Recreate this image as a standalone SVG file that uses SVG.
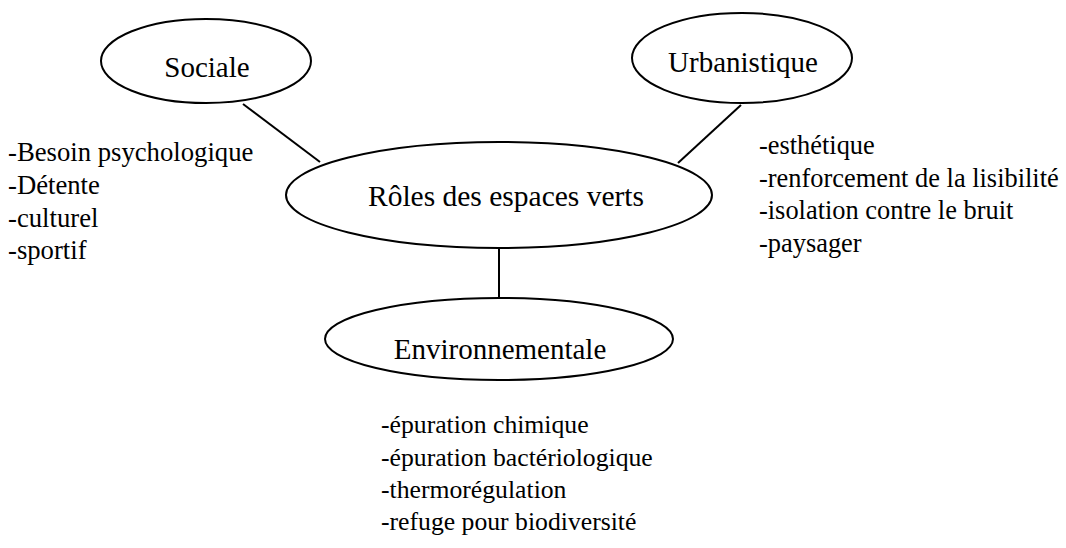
<svg xmlns="http://www.w3.org/2000/svg" width="1066" height="548" viewBox="0 0 1066 548">
<style>
.node{fill:#fff;stroke:#000;stroke-width:2}
.lbl{font-family:'Liberation Serif','Times New Roman',serif;font-size:29px;fill:#000;text-anchor:middle}
.lst{font-family:'Liberation Serif','Times New Roman',serif;font-size:26px;fill:#000}
.edge{stroke:#000;stroke-width:2;fill:none}
</style>
<rect width="1066" height="548" fill="#fff"/>
<g id="connectors">
<line class="edge" x1="243" y1="104" x2="320" y2="162"/>
<line class="edge" x1="741" y1="105" x2="678" y2="163"/>
<line class="edge" x1="499" y1="248" x2="499" y2="298"/>
</g>
<g id="sociale">
<ellipse class="node" cx="206" cy="61" rx="105" ry="42"/>
<text class="lbl" x="207" y="77">Sociale</text>
<g class="lst" style="font-size:26.7px">
<text x="8" y="161">-Besoin psychologique</text>
<text x="8" y="194">-Détente</text>
<text x="8" y="227">-culturel</text>
<text x="8" y="259">-sportif</text>
</g>
</g>
<g id="urbanistique">
<ellipse class="node" cx="742" cy="58" rx="110" ry="45"/>
<text class="lbl" x="743" y="72">Urbanistique</text>
<g class="lst" style="font-size:26.4px">
<text x="759" y="154">-esthétique</text>
<text x="759" y="187">-renforcement de la lisibilité</text>
<text x="759" y="219">-isolation contre le bruit</text>
<text x="759" y="252">-paysager</text>
</g>
</g>
<g id="roles">
<ellipse class="node" cx="499" cy="195" rx="213" ry="53"/>
<text class="lbl" style="font-size:29.5px" x="506" y="206">Rôles des espaces verts</text>
</g>
<g id="environnementale">
<ellipse class="node" cx="499" cy="339" rx="174" ry="41"/>
<text class="lbl" x="500" y="359">Environnementale</text>
<g class="lst" style="font-size:25.7px">
<text x="381" y="433">-épuration chimique</text>
<text x="381" y="466">-épuration bactériologique</text>
<text x="381" y="498">-thermorégulation</text>
<text x="381" y="530">-refuge pour biodiversité</text>
</g>
</g>
</svg>
